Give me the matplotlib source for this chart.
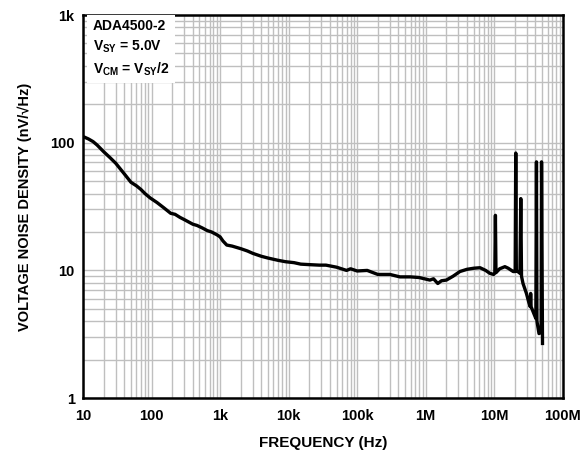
import matplotlib
matplotlib.use("Agg")
import matplotlib.pyplot as plt
from matplotlib.ticker import FixedLocator, LogLocator, NullFormatter

plt.rcParams['font.family'] = ['Liberation Sans', 'DejaVu Sans']
plt.rcParams['font.weight'] = 'bold'
plt.rcParams['mathtext.fontset'] = 'custom'
plt.rcParams['mathtext.rm'] = 'Liberation Sans:bold'
plt.rcParams['mathtext.bf'] = 'Liberation Sans:bold'
plt.rcParams['mathtext.it'] = 'Liberation Sans:bold'

# voltage noise density
freq = [10.7, 12, 14, 16, 20, 25, 30, 40, 50, 60, 70, 80, 95, 120, 150, 190,
        220, 260, 300, 400, 460, 550, 650, 750, 900, 1000, 1100, 1250, 1500,
        2000, 2500, 3000, 4000, 5000, 7000, 9000, 12e3, 15e3, 20e3, 28e3,
        35e3, 50e3, 70e3, 80e3, 100e3, 140e3, 200e3, 300e3, 420e3, 600e3,
        800e3, 1.15e6, 1.3e6, 1.5e6, 1.7e6, 2.0e6, 2.5e6, 3.15e6, 4e6, 5e6,
        6.2e6, 7.5e6, 8.6e6, 9.8e6, 10.2e6, 10.4e6, 10.6e6, 12e6, 14.3e6,
        16e6, 18.9e6, 20.2e6, 20.6e6, 21e6, 23.7e6, 24.4e6, 25e6, 26.3e6,
        29.5e6, 32e6, 33.5e6, 34e6, 34.5e6, 37.8e6, 40.5e6, 41.3e6, 42e6,
        45e6, 48.3e6, 49e6, 50.6e6]
nsd = [110, 107, 102, 96, 85, 76, 69, 57, 49, 46, 43, 40, 37, 34, 31, 28,
       27.5, 26, 25, 23, 22.5, 21.5, 20.5, 20, 19, 18.3, 17, 15.8, 15.5,
       14.8, 14.2, 13.6, 12.9, 12.5, 12, 11.7, 11.5, 11.2, 11.1, 11.0,
       11.0, 10.6, 10.0, 10.3, 9.9, 10.0, 9.3, 9.3, 8.9, 8.9,
       8.8, 8.4, 8.6, 7.9, 8.3, 8.4, 9.0, 9.8, 10.2, 10.4,
       10.5, 10.0, 9.5, 9.3, 9.6, 27, 9.6, 10.3, 10.7,
       10.4, 9.8, 9.8, 83, 10, 9.5, 36.5, 9.0, 7.9,
       6.6, 5.6, 5.2, 6.6, 5.2, 4.6, 4.2, 70.8, 4.0,
       3.2, 3.3, 70.8, 2.68]

xticks = [10, 100, 1e3, 1e4, 1e5, 1e6, 1e7, 1e8]
xlabels = ['10', '100', '1k', '10k', '100k', '1M', '10M', '100M']
yticks = [1, 10, 100, 1000]
ylabels = ['1', '10', '100', '1k']

fig = plt.figure(figsize=(5.85, 4.55), dpi=100)
ax = fig.add_axes([0.142, 0.125, 0.820, 0.842])

ax.plot(freq, nsd, color='black', lw=2.4, zorder=3)

ax.set_xscale('log')
ax.set_yscale('log')
ax.set_xlim(10, 1e8)
ax.set_ylim(1, 1000)

ax.xaxis.set_major_locator(FixedLocator(xticks))
ax.set_xticklabels(xlabels)
ax.yaxis.set_major_locator(FixedLocator(yticks))
ax.set_yticklabels(ylabels)
ax.xaxis.set_minor_locator(LogLocator(base=10, subs=range(2, 10), numticks=20))
ax.yaxis.set_minor_locator(LogLocator(base=10, subs=range(2, 10), numticks=20))
ax.xaxis.set_minor_formatter(NullFormatter())
ax.yaxis.set_minor_formatter(NullFormatter())

ax.grid(True, which='both', color='#bfbfbf', lw=1.0)
ax.set_axisbelow(True)
ax.tick_params(which='both', length=0, labelsize=10.5)
ax.tick_params(axis='x', pad=8)
ax.tick_params(axis='y', pad=6)
for s in ax.spines.values():
    s.set_linewidth(1.8)

ax.set_xlabel('FREQUENCY (Hz)', fontsize=11, fontweight='bold', labelpad=9)
ax.set_ylabel('VOLTAGE NOISE DENSITY (nV/\u221aHz)', fontsize=10.5,
              fontweight='bold', labelpad=13)

ax.text(0.02, 0.99,
        'ADA4500-2\nV$_{\\mathrm{SY}}$ = 5.0V\nV$_{\\mathrm{CM}}$ = V$_{\\mathrm{SY}}$/2',
        transform=ax.transAxes, ha='left', va='top', fontsize=10,
        fontweight='bold', linespacing=1.45, zorder=4,
        bbox=dict(facecolor='white', edgecolor='none', pad=4))

fig.savefig('out.png', dpi=100)
